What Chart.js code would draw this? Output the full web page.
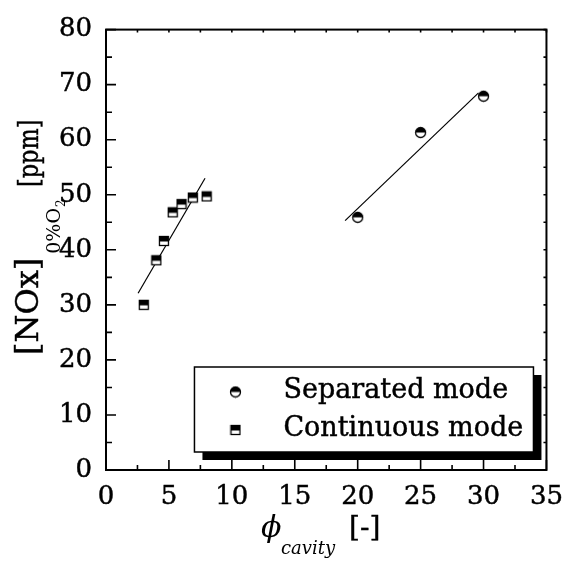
<!DOCTYPE html>
<html>
<head>
<meta charset="utf-8">
<script src="https://cdn.jsdelivr.net/npm/chart.js@4.4.0/dist/chart.umd.min.js"></script>
<style>
  html, body { margin: 0; padding: 0; background: #fff; }
</style>
</head>
<body>
<canvas id="nox" width="575" height="563"></canvas>
<script>
// data
const separatedX = [20, 25, 30];
const separatedY = [45.9, 61.3, 67.9];
const continuousX = [3.0, 4.0, 4.6, 5.3, 6.0, 6.9, 8.0];
const continuousY = [30.0, 38.1, 41.6, 46.8, 48.3, 49.5, 49.7];
// linear fits drawn in the figure
const separatedFitX = [19.0, 29.6];
const separatedFitY = [45.3, 68.5];
const continuousFitX = [2.55, 7.87];
const continuousFitY = [32.1, 53.0];
const seriesNames = ['Separated mode', 'Continuous mode'];
const xTicks = [0, 5, 10, 15, 20, 25, 30, 35];
const yTicks = [0, 10, 20, 30, 40, 50, 60, 70, 80];

const FONT = '"DejaVu Serif", serif';

function toPoints(xs, ys) {
    return xs.map((x, i) => ({ x: x, y: ys[i] }));
}

// half filled markers
function halfCircle() {
    const c = document.createElement('canvas');
    c.width = 13; c.height = 13;
    const g = c.getContext('2d');
    g.fillStyle = '#fff';
    g.beginPath(); g.arc(6.5, 6.5, 5, 0, Math.PI * 2); g.fill();
    g.fillStyle = '#000';
    g.beginPath(); g.arc(6.5, 6.5, 5, Math.PI, 0); g.closePath(); g.fill();
    g.strokeStyle = '#000'; g.lineWidth = 1.3;
    g.beginPath(); g.arc(6.5, 6.5, 5, 0, Math.PI * 2); g.stroke();
    return c;
}
function halfSquare() {
    const c = document.createElement('canvas');
    c.width = 12; c.height = 12;
    const g = c.getContext('2d');
    g.fillStyle = '#fff'; g.fillRect(1, 1, 10, 10);
    g.fillStyle = '#000'; g.fillRect(1, 1, 10, 5.5);
    g.strokeStyle = '#000'; g.lineWidth = 1.3;
    g.strokeRect(1.5, 1.5, 9, 9);
    return c;
}
const circleImg = halfCircle();
const squareImg = halfSquare();

// fill + thin stroke so the serif text looks a bit heavier
function heavyText(ctx, s, x, y) {
    ctx.fillText(s, x, y);
    ctx.strokeText(s, x, y);
}

const frameAndLabels = {
    id: 'frameAndLabels',
    afterDatasetsDraw(chart) {
        const { ctx, chartArea: a } = chart;
        const xs = chart.scales.x, ys = chart.scales.y;
        ctx.save();
        ctx.strokeStyle = '#000';
        ctx.lineWidth = 2;
        ctx.strokeRect(a.left, a.top, a.right - a.left, a.bottom - a.top);
        ctx.lineWidth = 1.6;
        ctx.beginPath();
        xTicks.forEach((t, i) => {
            const p = xs.getPixelForValue(t);
            ctx.moveTo(p, a.bottom); ctx.lineTo(p, a.bottom - 10);
            ctx.moveTo(p, a.top); ctx.lineTo(p, a.top + 3);
            if (i < xTicks.length - 1) {
                const m = xs.getPixelForValue((t + xTicks[i + 1]) / 2);
                ctx.moveTo(m, a.bottom); ctx.lineTo(m, a.bottom - 5);
                ctx.moveTo(m, a.top); ctx.lineTo(m, a.top + 3);
            }
        });
        yTicks.forEach((t, i) => {
            const p = ys.getPixelForValue(t);
            ctx.moveTo(a.left, p); ctx.lineTo(a.left + 10, p);
            ctx.moveTo(a.right, p); ctx.lineTo(a.right - 3, p);
            if (i < yTicks.length - 1) {
                const m = ys.getPixelForValue((t + yTicks[i + 1]) / 2);
                ctx.moveTo(a.left, m); ctx.lineTo(a.left + 6, m);
                ctx.moveTo(a.right, m); ctx.lineTo(a.right - 3, m);
            }
        });
        ctx.stroke();
        ctx.restore();
    },
    afterDraw(chart) {
        const { ctx, chartArea: a } = chart;
        ctx.save();
        ctx.fillStyle = '#000';
        ctx.strokeStyle = '#000';
        ctx.lineWidth = 0.45;
        ctx.textBaseline = 'alphabetic';

        // y axis title, rotated
        ctx.save();
        ctx.translate(38, 355);
        ctx.rotate(-Math.PI / 2);
        ctx.font = '32px ' + FONT;
        heavyText(ctx, '[NOx]', 0, 0);
        let u = ctx.measureText('[NOx]').width + 4;
        ctx.font = '19px ' + FONT;
        ctx.fillText('0%O', u, 22);
        u += ctx.measureText('0%O').width + 1;
        ctx.font = '12px ' + FONT;
        ctx.fillText('2', u, 27);
        ctx.font = '28px ' + FONT;
        ctx.save();
        ctx.translate(168, 0);
        ctx.scale(0.8, 1);
        heavyText(ctx, '[ppm]', 0, 0);
        ctx.restore();
        ctx.restore();

        // x axis title
        ctx.font = 'italic 30px ' + FONT;
        ctx.fillText('\u03D5', 261, 537);
        ctx.font = 'italic 18px ' + FONT;
        ctx.fillText('cavity', 281, 554);
        ctx.font = '28px ' + FONT;
        heavyText(ctx, '[-]', 349, 536);

        // legend box with shadow
        const bx = a.right - 352, by = a.bottom - 103, bw = 339, bh = 85;
        ctx.fillStyle = '#000';
        ctx.fillRect(bx + 8, by + 8, bw, bh);
        ctx.fillStyle = '#fff';
        ctx.fillRect(bx, by, bw, bh);
        ctx.lineWidth = 1.5;
        ctx.strokeRect(bx, by, bw, bh);
        const imgs = [circleImg, squareImg];
        ctx.font = '27px ' + FONT;
        ctx.fillStyle = '#000';
        ctx.lineWidth = 0.45;
        seriesNames.forEach((name, i) => {
            const cy = by + 25 + i * 38;
            ctx.drawImage(imgs[i], bx + 41 - imgs[i].width / 2, cy - imgs[i].height / 2);
            heavyText(ctx, name, bx + 89, cy + 6);
        });
        ctx.restore();
    }
};

new Chart(document.getElementById('nox').getContext('2d'), {
    type: 'scatter',
    data: {
        datasets: [
            {
                label: seriesNames[0],
                data: toPoints(separatedX, separatedY),
                pointStyle: circleImg
            },
            {
                label: seriesNames[1],
                data: toPoints(continuousX, continuousY),
                pointStyle: squareImg
            },
            {
                label: 'fit separated',
                data: toPoints(separatedFitX, separatedFitY),
                showLine: true,
                pointRadius: 0,
                borderColor: '#000',
                borderWidth: 1.2
            },
            {
                label: 'fit continuous',
                data: toPoints(continuousFitX, continuousFitY),
                showLine: true,
                pointRadius: 0,
                borderColor: '#000',
                borderWidth: 1.2
            }
        ]
    },
    options: {
        responsive: false,
        animation: false,
        devicePixelRatio: 1,
        events: [],
        layout: { padding: { top: 26, right: 24, left: 0, bottom: 0 } },
        plugins: {
            legend: { display: false },
            tooltip: { enabled: false }
        },
        scales: {
            x: {
                type: 'linear',
                min: 0,
                max: 35,
                afterFit(scale) { scale.height = 93; },
                afterBuildTicks(scale) { scale.ticks = xTicks.map(v => ({ value: v })); },
                grid: { display: false, drawTicks: false },
                border: { display: false },
                ticks: {
                    color: '#000',
                    textStrokeColor: '#000',
                    textStrokeWidth: 0.45,
                    padding: 12,
                    maxRotation: 0,
                    font: { family: FONT, size: 26 }
                }
            },
            y: {
                type: 'linear',
                min: 0,
                max: 80,
                afterFit(scale) { scale.width = 106; },
                afterBuildTicks(scale) { scale.ticks = yTicks.map(v => ({ value: v })); },
                grid: { display: false, drawTicks: false },
                border: { display: false },
                ticks: {
                    color: '#000',
                    textStrokeColor: '#000',
                    textStrokeWidth: 0.45,
                    padding: 14,
                    font: { family: FONT, size: 26 }
                }
            }
        }
    },
    plugins: [frameAndLabels]
});
</script>
</body>
</html>
